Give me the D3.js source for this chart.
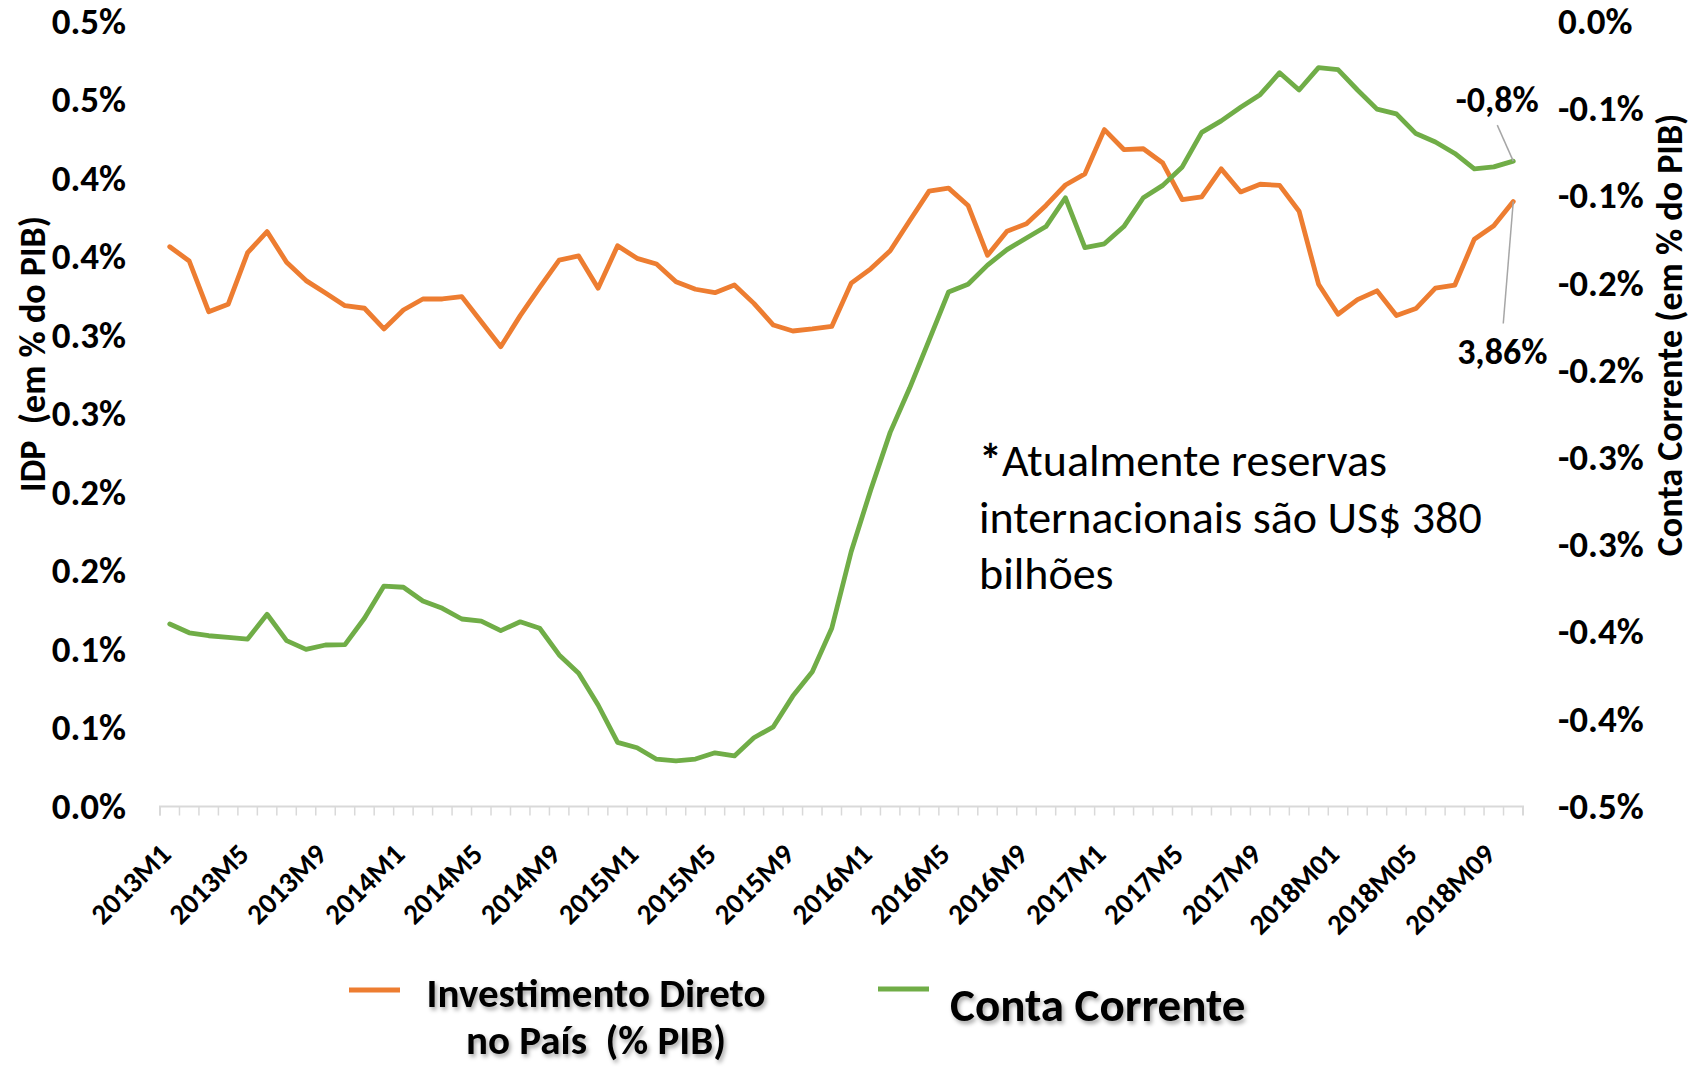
<!DOCTYPE html>
<html>
<head>
<meta charset="utf-8">
<script src="https://cdn.jsdelivr.net/npm/d3@7"></script>
<style>
  body { margin: 0; background: #fff; }
  text { font-family: Carlito, Lato, "Open Sans", sans-serif; white-space: pre; }
</style>
</head>
<body>
<svg id="chart"></svg>
<script>
var width = 1693, height = 1067;

// months 2013M1 .. 2018M10
var months = [];
for (var yr = 2013; yr <= 2018; yr++) {
    for (var m = 1; m <= 12; m++) {
        if (yr == 2018 && m > 10) break;
        months.push(yr + "M" + m);
    }
}

// labels shown on the x axis (every 4 months)
var xTickLabels = {
    "2013M1": "2013M1", "2013M5": "2013M5", "2013M9": "2013M9",
    "2014M1": "2014M1", "2014M5": "2014M5", "2014M9": "2014M9",
    "2015M1": "2015M1", "2015M5": "2015M5", "2015M9": "2015M9",
    "2016M1": "2016M1", "2016M5": "2016M5", "2016M9": "2016M9",
    "2017M1": "2017M1", "2017M5": "2017M5", "2017M9": "2017M9",
    "2018M1": "2018M01", "2018M5": "2018M05", "2018M9": "2018M09"
};

// Investimento Direto no Pais (left axis)
var idp = [
    0.3566, 0.3475, 0.3152, 0.3199, 0.3528, 0.3662, 0.3467, 0.3350, 0.3271, 0.3190,
    0.3174, 0.3042, 0.3163, 0.3233, 0.3233, 0.3248, 0.3088, 0.2929, 0.3127, 0.3307,
    0.3481, 0.3507, 0.3301, 0.3572, 0.3492, 0.3456, 0.3343, 0.3295, 0.3273, 0.3322,
    0.3205, 0.3067, 0.3029, 0.3042, 0.3058, 0.3334, 0.3425, 0.3540, 0.3731, 0.3920,
    0.3939, 0.3829, 0.3511, 0.3665, 0.3712, 0.3829, 0.3959, 0.4030, 0.4312, 0.4185,
    0.4190, 0.4099, 0.3866, 0.3883, 0.4062, 0.3915, 0.3964, 0.3957, 0.3792, 0.3327,
    0.3136, 0.3229, 0.3285, 0.3128, 0.3172, 0.3302, 0.3322, 0.3614, 0.3699, 0.3854
];

// Conta Corrente (right axis)
var contaCorrente = [
    -0.3454, -0.3504, -0.3521, -0.3530, -0.3540, -0.3398, -0.3549, -0.3599, -0.3574, -0.3572,
    -0.3421, -0.3236, -0.3243, -0.3322, -0.3364, -0.3425, -0.3437, -0.3492, -0.3441, -0.3478,
    -0.3631, -0.3736, -0.3918, -0.4132, -0.4163, -0.4229, -0.4239, -0.4228, -0.4192, -0.4210,
    -0.4106, -0.4043, -0.3867, -0.3727, -0.3478, -0.3038, -0.2685, -0.2355, -0.2101, -0.1826,
    -0.1550, -0.1506, -0.1396, -0.1307, -0.1241, -0.1175, -0.1010, -0.1296, -0.1274, -0.1175,
    -0.1010, -0.0939, -0.0833, -0.0635, -0.0569, -0.0491, -0.0419, -0.0293, -0.0392, -0.0264,
    -0.0275, -0.0392, -0.0502, -0.0529, -0.0642, -0.0690, -0.0756, -0.0844, -0.0833, -0.0800
];

var leftTicks = [0, 0.05, 0.10, 0.15, 0.20, 0.25, 0.30, 0.35, 0.40, 0.45, 0.50];
var leftTickLabels = ["0.0%", "0.1%", "0.1%", "0.2%", "0.2%", "0.3%", "0.3%", "0.4%", "0.4%", "0.5%", "0.5%"];
var rightTicks = [0, -0.05, -0.10, -0.15, -0.20, -0.25, -0.30, -0.35, -0.40, -0.45];
var rightTickLabels = ["0.0%", "-0.1%", "-0.1%", "-0.2%", "-0.2%", "-0.3%", "-0.3%", "-0.4%", "-0.4%", "-0.5%"];

var lastLabels = ["3,86%", "-0,8%"];
var noteLines = ["Atualmente reservas", "internacionais são US$ 380", "bilhões"];

var orange = "#ED7D31", green = "#70AD47";

var svg = d3.select("#chart")
    .attr("width", width)
    .attr("height", height);

var defs = svg.append("defs");
var shadow = defs.append("filter").attr("id", "shadow")
    .attr("x", "-10%").attr("y", "-20%").attr("width", "130%").attr("height", "150%");
shadow.append("feDropShadow")
    .attr("dx", 2).attr("dy", 3).attr("stdDeviation", 2)
    .attr("flood-color", "#000").attr("flood-opacity", 0.35);

var plotLeft = 160, plotRight = 1523, plotTop = 21.6, plotBottom = 806.5;

var x = d3.scaleBand().domain(months).range([plotLeft, plotRight]).padding(0);
var yLeft = d3.scaleLinear().domain([0, 0.5]).range([plotBottom, plotTop]);
var yRight = d3.scaleLinear().domain([-0.45, 0]).range([plotBottom, plotTop]);

function cx(d) { return x(d) + x.bandwidth() / 2; }

// category axis line + tick marks between categories
var xAxis = d3.axisBottom(x).tickSize(9).tickFormat("");
var gx = svg.append("g")
    .attr("transform", "translate(0," + plotBottom + ")")
    .call(xAxis);
gx.select(".domain").attr("stroke", "#d9d9d9").attr("stroke-width", 2)
    .attr("d", "M" + plotLeft + ",9V0H" + plotRight + "V9");
gx.selectAll(".tick")
    .attr("transform", function(d) { return "translate(" + x(d) + ",0)"; })
    .select("line").attr("stroke", "#d9d9d9").attr("stroke-width", 1.5);

// rotated month labels
svg.append("g").selectAll("text")
    .data(months.filter(function(d) { return xTickLabels[d]; }))
    .enter().append("text")
    .attr("transform", function(d) {
        return "translate(" + (cx(d) + 3) + ",856) rotate(-45)";
    })
    .attr("text-anchor", "end")
    .attr("font-size", 29)
    .attr("font-weight", "bold")
    .attr("fill", "#000")
    .text(function(d) { return xTickLabels[d]; });

// left value axis
var gl = svg.append("g")
    .attr("transform", "translate(" + plotLeft + ",0)")
    .call(d3.axisLeft(yLeft).tickValues(leftTicks).tickSize(0).tickPadding(34)
        .tickFormat(function(d, i) { return leftTickLabels[i]; }));
gl.select(".domain").remove();
gl.selectAll("text")
    .attr("font-size", 37).attr("font-weight", "bold").attr("fill", "#000")
    .style("font-family", "Carlito, Lato, sans-serif");

// right value axis
var gr = svg.append("g")
    .attr("transform", "translate(" + plotRight + ",0)")
    .call(d3.axisRight(yRight).tickValues(rightTicks).tickSize(0).tickPadding(35)
        .tickFormat(function(d, i) { return rightTickLabels[i]; }));
gr.select(".domain").remove();
gr.selectAll("text")
    .attr("font-size", 37).attr("font-weight", "bold").attr("fill", "#000")
    .style("font-family", "Carlito, Lato, sans-serif");

// axis titles
svg.append("text")
    .attr("transform", "translate(45,354) rotate(-90)")
    .attr("text-anchor", "middle")
    .attr("font-size", 36).attr("font-weight", "bold")
    .text("IDP  (em % do PIB)");

svg.append("text")
    .attr("transform", "translate(1682,335) rotate(-90)")
    .attr("text-anchor", "middle")
    .attr("font-size", 36).attr("font-weight", "bold")
    .text("Conta Corrente (em % do PIB)");

// lines
var lineLeft = d3.line()
    .x(function(d, i) { return cx(months[i]); })
    .y(function(d) { return yLeft(d); });
var lineRight = d3.line()
    .x(function(d, i) { return cx(months[i]); })
    .y(function(d) { return yRight(d); });

svg.append("path").datum(idp)
    .attr("d", lineLeft)
    .attr("fill", "none").attr("stroke", orange)
    .attr("stroke-width", 4.8).attr("stroke-linejoin", "round").attr("stroke-linecap", "round");

svg.append("path").datum(contaCorrente)
    .attr("d", lineRight)
    .attr("fill", "none").attr("stroke", green)
    .attr("stroke-width", 4.8).attr("stroke-linejoin", "round").attr("stroke-linecap", "round");

// labels on the last points, with leader lines
var lastMonth = months[months.length - 1];
var lastX = cx(lastMonth);
var idpLast = yLeft(idp[idp.length - 1]);
var ccLast = yRight(contaCorrente[contaCorrente.length - 1]);

svg.append("line")
    .attr("x1", lastX - 10).attr("y1", idpLast + 122)
    .attr("x2", lastX).attr("y2", idpLast)
    .attr("stroke", "#a6a6a6").attr("stroke-width", 1.5);
svg.append("text")
    .attr("x", lastX - 11).attr("y", idpLast + 163)
    .attr("text-anchor", "middle")
    .attr("font-size", 36).attr("font-weight", "bold")
    .text(lastLabels[0]);

svg.append("line")
    .attr("x1", lastX - 16).attr("y1", ccLast - 36)
    .attr("x2", lastX).attr("y2", ccLast)
    .attr("stroke", "#a6a6a6").attr("stroke-width", 1.5);
svg.append("text")
    .attr("x", lastX - 16).attr("y", ccLast - 49)
    .attr("text-anchor", "middle")
    .attr("font-size", 36).attr("font-weight", "bold")
    .text(lastLabels[1]);

// note
var note = svg.append("text")
    .attr("x", 979).attr("y", 476)
    .attr("font-size", 46);
note.append("tspan").attr("font-weight", "bold").text("*");
note.append("tspan").text(noteLines[0]);
svg.append("text").attr("x", 979).attr("y", 533).attr("font-size", 46).text(noteLines[1]);
svg.append("text").attr("x", 979).attr("y", 589).attr("font-size", 46).text(noteLines[2]);

// legend
var legend = svg.append("g");
legend.append("line")
    .attr("x1", 349).attr("x2", 400).attr("y1", 990).attr("y2", 990)
    .attr("stroke", orange).attr("stroke-width", 5);
legend.append("text")
    .attr("x", 596).attr("y", 1007)
    .attr("text-anchor", "middle")
    .attr("font-size", 41).attr("font-weight", "bold")
    .attr("filter", "url(#shadow)")
    .text("Investimento Direto");
legend.append("text")
    .attr("x", 596).attr("y", 1054)
    .attr("text-anchor", "middle")
    .attr("font-size", 41).attr("font-weight", "bold")
    .attr("filter", "url(#shadow)")
    .text("no País  (% PIB)");

legend.append("line")
    .attr("x1", 878).attr("x2", 929).attr("y1", 989).attr("y2", 989)
    .attr("stroke", green).attr("stroke-width", 5);
legend.append("text")
    .attr("x", 950).attr("y", 1021)
    .attr("font-size", 47).attr("font-weight", "bold")
    .attr("filter", "url(#shadow)")
    .text("Conta Corrente");
</script>
</body>
</html>
